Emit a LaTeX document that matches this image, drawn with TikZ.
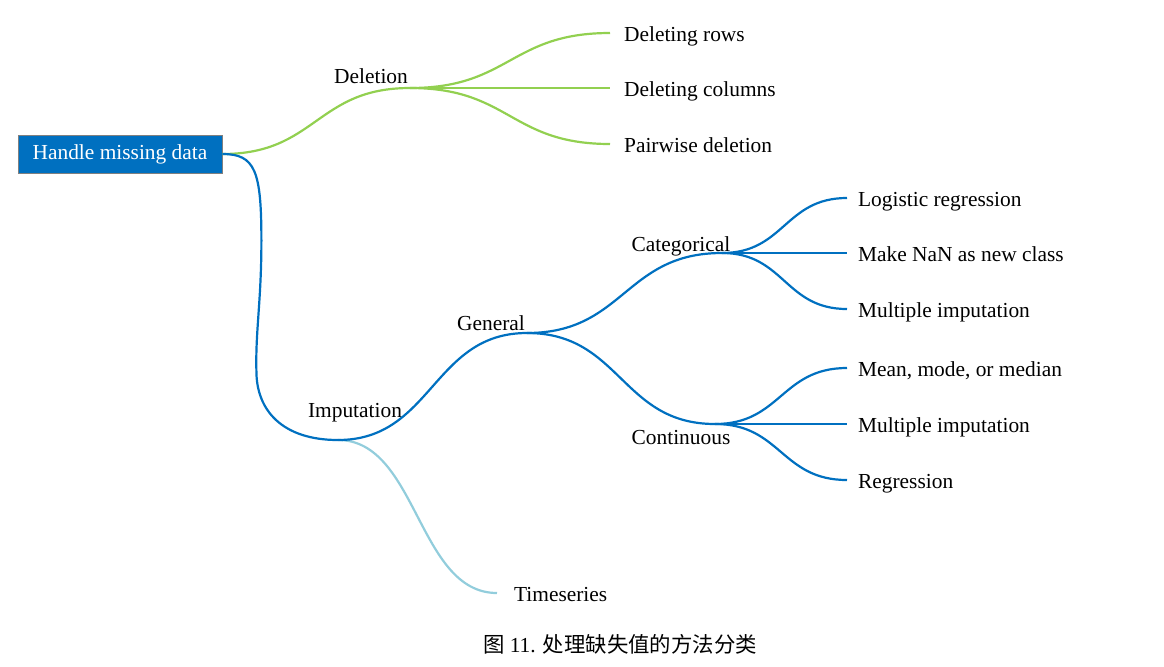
\documentclass[tikz,border=0pt]{standalone}
\usepackage{fontspec}
\setmainfont{Liberation Serif}
\newfontfamily\cjkfont{Noto Sans CJK SC}
\usetikzlibrary{calc}
\definecolor{mapblue}{HTML}{0070C0}
\definecolor{mapgreen}{HTML}{92D050}
\definecolor{mapsky}{HTML}{92CDDC}
\newcommand{\branch}[3]{\draw[#3] let \p1=(#1), \p2=(#2) in (\p1) .. controls ({(\x1+\x2)/2},\y1) and ({(\x1+\x2)/2},\y2) .. (\p2);}

\begin{document}
\begin{tikzpicture}[x=0.5pt, y=-0.5pt, line width=1.1pt,
  every node/.style={font=\fontsize{10.7}{13}\selectfont},
  rootbox/.style={fill=mapblue, draw=gray, line width=0.4pt, text=white,
    minimum width=102pt, minimum height=19pt, inner sep=0pt},
  topic/.style={anchor=base, inner sep=0pt},
  leaf/.style={anchor=west, inner xsep=#1, inner ysep=0pt,
    text height=9.5pt, text depth=1pt},
  leaf/.default=5pt]
  \useasboundingbox (0,0) rectangle (1164,666);

  \node[rootbox] (root) at (120,154) {Handle missing data};

  % Deletion
  % --------
  \coordinate (jdel) at (410,88);
  \node[topic] (deltxt) at (371,83) {Deletion};
  \branch{root.east}{jdel}{mapgreen}

  \foreach \name/\y/\txt in {rows/33/Deleting rows, cols/88/Deleting columns,
    pair/144/Pairwise deletion}{
    \node[leaf=6.5pt] (\name) at (610,\y) {\txt};
    \branch{jdel}{\name.west}{mapgreen}
  }

  % Imputation
  % ----------
  \coordinate (jimp) at (338,440);
  \node[topic] (imptxt) at (355,417) {Imputation};

  % Timeseries
  \node[leaf=8pt] (ts) at (497,593) {Timeseries};
  \branch{jimp}{ts.west}{mapsky}

  \draw[mapblue] (root.east) .. controls +(33,0) and +(0,-70) .. ++(39,87)
    .. controls +(0,60) and +(-1,-40) .. ++(-5,130)
    .. controls +(0,40) and +(-55,0) .. (jimp);

  % General
  \coordinate (jgen) at (527,333);
  \node[topic] (gentxt) at (491,330) {General};
  \branch{jimp}{jgen}{mapblue}

  % Categorical
  \coordinate (jcat) at (722,253);
  \node[topic] (cattxt) at (681,251) {Categorical};
  \branch{jgen}{jcat}{mapblue}

  \foreach \name/\y/\txt in {logit/198/Logistic regression,
    nancls/253/Make NaN as new class, multa/309/Multiple imputation}{
    \node[leaf] (\name) at (847,\y) {\txt};
    \branch{jcat}{\name.west}{mapblue}
  }

  % Continuous
  \coordinate (jcon) at (715,424);
  \node[topic] (contxt) at (681,444) {Continuous};
  \branch{jgen}{jcon}{mapblue}

  \foreach \name/\y/\txt in {mean/368/{Mean, mode, or median},
    multb/424/Multiple imputation, regr/480/Regression}{
    \node[leaf] (\name) at (847,\y) {\txt};
    \branch{jcon}{\name.west}{mapblue}
  }

  % Caption
  % -------
  \node[topic] (caption) at (620,652) {{\cjkfont 图} 11. {\cjkfont 处理缺失值的方法分类}};
\end{tikzpicture}
\end{document}
